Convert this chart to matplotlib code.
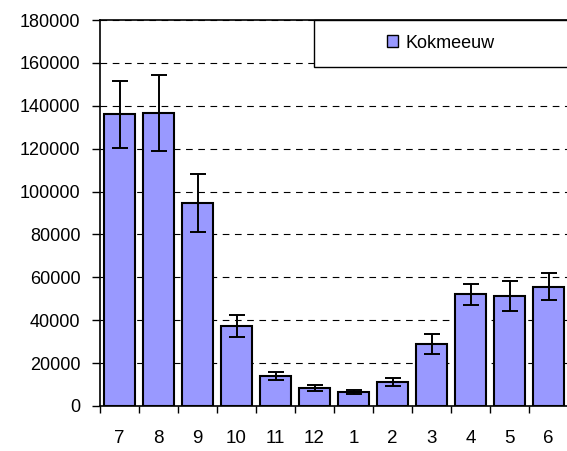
import matplotlib
matplotlib.use("Agg")
import matplotlib.pyplot as plt
from matplotlib.patches import Rectangle, Patch
from matplotlib.ticker import FixedLocator, MultipleLocator, FuncFormatter

months = ["7", "8", "9", "10", "11", "12", "1", "2", "3", "4", "5", "6"]
values = [136000, 136500, 94800, 37200, 13800, 8300, 6400, 11000, 28800, 52000, 51200, 55700]
errors = [15500, 17800, 13500, 5200, 1900, 1400, 900, 1900, 4700, 4700, 7000, 6200]
series_name = "Kokmeeuw"

plt.rcParams['font.family'] = ['Liberation Sans', 'DejaVu Sans']

W, H = 567, 451
fig = plt.figure(figsize=(W / 100, H / 100), dpi=100)
ax = fig.add_axes([100 / W, 1 - 406 / H, 468 / W, 386 / H])

x = list(range(len(months)))
ax.bar(x, values, width=0.8, color="#9999FF", edgecolor="black", linewidth=1.5, zorder=3)
ax.errorbar(x, values, yerr=errors, fmt="none", ecolor="black", elinewidth=1.4,
            capsize=5.5, capthick=1.4, zorder=4)

ax.set_xlim(-0.5, len(months) - 0.5)
ax.set_ylim(0, 180000)
ax.yaxis.set_major_locator(MultipleLocator(20000))
ax.yaxis.set_major_formatter(FuncFormatter(lambda v, p: f"{int(v)}"))

ax.set_xticks(x)
ax.set_xticklabels(months)
ax.xaxis.set_minor_locator(FixedLocator([i - 0.5 for i in range(len(months) + 1)]))
ax.tick_params(axis="x", which="major", length=0, pad=17.5, labelsize=13.5)
ax.tick_params(axis="x", which="minor", length=5, width=1, direction="out")
ax.tick_params(axis="y", which="major", length=6, width=1, direction="out", pad=8, labelsize=13)

ax.grid(axis="y", color="black", linestyle=(0, (6, 5)), linewidth=0.8, zorder=1)
ax.spines["right"].set_visible(False)
for s in ["top", "left", "bottom"]:
    ax.spines[s].set_linewidth(1.2)

# legend box
rect = Rectangle((314 / W, 1 - 67 / H), (W - 314) / W + 0.01, 47 / H, transform=fig.transFigure,
                 facecolor="white", edgecolor="black", linewidth=1.0, zorder=10, clip_on=False)
fig.patches.append(rect)
handle = Patch(facecolor="#9999FF", edgecolor="black", linewidth=1.0)
leg = fig.legend([handle], [series_name], loc="center", bbox_to_anchor=(441 / W, 1 - 43 / H),
                 frameon=False, fontsize=13, handlelength=0.6, handleheight=0.6, handletextpad=0.4)
leg.set_zorder(11)

fig.savefig("out.png", dpi=100)
